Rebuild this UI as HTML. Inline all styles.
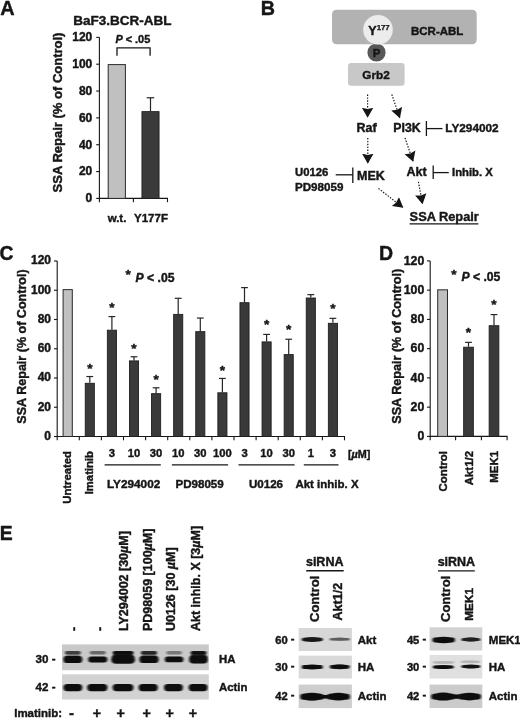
<!DOCTYPE html>
<html lang="en"><head><meta charset="utf-8"><title>Figure</title>
<style>
html,body{margin:0;padding:0;background:#fff;}
svg{display:block;font-family:"Liberation Sans",Arial,Helvetica,sans-serif;fill:#161616;will-change:transform;filter:blur(0.4px);}
svg text{stroke:#161616;stroke-width:0.42;stroke-linejoin:round;}
</style></head>
<body>
<svg width="520" height="719" viewBox="0 0 520 719">
<defs>
<marker id="ah" markerWidth="14" markerHeight="14" refX="9.6" refY="6" orient="auto" markerUnits="userSpaceOnUse"><path d="M0,0.3 L10,6 L0,11.7 L1.2,6 Z" fill="#161616"/></marker>
<filter id="b1" x="-20%" y="-80%" width="140%" height="260%"><feGaussianBlur stdDeviation="0.9 0.75"/></filter>
<filter id="b3" x="-20%" y="-100%" width="140%" height="300%"><feGaussianBlur stdDeviation="1.1 0.9"/></filter>
<filter id="b4" x="-20%" y="-100%" width="140%" height="300%"><feGaussianBlur stdDeviation="0.9 0.6"/></filter>
<filter id="b2" x="-20%" y="-80%" width="140%" height="260%"><feGaussianBlur stdDeviation="1.0 0.7"/></filter>
<clipPath id="c1"><rect x="62.2" y="644" width="146.4" height="27"/></clipPath>
<clipPath id="c2"><rect x="62.2" y="674.3" width="146.4" height="25"/></clipPath>
<clipPath id="c3"><rect x="298.7" y="628" width="53.2" height="80.1"/></clipPath>
<clipPath id="c4"><rect x="429.6" y="627.3" width="52.7" height="80.7"/></clipPath>
</defs>
<rect x="0" y="0" width="520" height="719" fill="#ffffff"/>
<text x="0.2" y="15" font-size="19.9" text-anchor="start" font-weight="bold" font-style="normal" stroke-width="1.0">A</text>
<text x="122.5" y="25" font-size="13.5" text-anchor="middle" font-weight="bold" font-style="normal">BaF3.BCR-ABL</text>
<line x1="99.4" y1="37.359999999999985" x2="99.4" y2="198.9" stroke="#161616" stroke-width="1.1"/>
<line x1="98.9" y1="198.4" x2="168.0" y2="198.4" stroke="#161616" stroke-width="1.1"/>
<line x1="96.2" y1="198.4" x2="99.4" y2="198.4" stroke="#161616" stroke-width="1.1"/>
<text x="92.3" y="202.2" font-size="12" text-anchor="end" font-weight="bold" font-style="normal">0</text>
<line x1="96.2" y1="171.56" x2="99.4" y2="171.56" stroke="#161616" stroke-width="1.1"/>
<text x="92.3" y="175.4" font-size="12" text-anchor="end" font-weight="bold" font-style="normal">20</text>
<line x1="96.2" y1="144.72" x2="99.4" y2="144.72" stroke="#161616" stroke-width="1.1"/>
<text x="92.3" y="148.5" font-size="12" text-anchor="end" font-weight="bold" font-style="normal">40</text>
<line x1="96.2" y1="117.88" x2="99.4" y2="117.88" stroke="#161616" stroke-width="1.1"/>
<text x="92.3" y="121.7" font-size="12" text-anchor="end" font-weight="bold" font-style="normal">60</text>
<line x1="96.2" y1="91.04" x2="99.4" y2="91.04" stroke="#161616" stroke-width="1.1"/>
<text x="92.3" y="94.8" font-size="12" text-anchor="end" font-weight="bold" font-style="normal">80</text>
<line x1="96.2" y1="64.2" x2="99.4" y2="64.2" stroke="#161616" stroke-width="1.1"/>
<text x="92.3" y="68.0" font-size="12" text-anchor="end" font-weight="bold" font-style="normal">100</text>
<line x1="96.2" y1="37.36" x2="99.4" y2="37.36" stroke="#161616" stroke-width="1.1"/>
<text x="92.3" y="41.2" font-size="12" text-anchor="end" font-weight="bold" font-style="normal">120</text>
<line x1="99.4" y1="198.4" x2="99.4" y2="202.20000000000002" stroke="#161616" stroke-width="1.1"/>
<line x1="133.4" y1="198.4" x2="133.4" y2="202.20000000000002" stroke="#161616" stroke-width="1.1"/>
<line x1="167.5" y1="198.4" x2="167.5" y2="202.20000000000002" stroke="#161616" stroke-width="1.1"/>
<rect x="108.20" y="64.60" width="17.20" height="133.80" fill="#c0c0c0" stroke="#2a2a2a" stroke-width="1.0" rx="0"/>
<rect x="141.95" y="111.62" width="17.10" height="86.78" fill="#3a3a3a" stroke="#1e1e1e" stroke-width="0.9" rx="0"/>
<line x1="150.5" y1="111.17" x2="150.5" y2="97.75" stroke="#262626" stroke-width="1.2"/>
<line x1="146.75" y1="97.75" x2="154.25" y2="97.75" stroke="#262626" stroke-width="1.2"/>
<text x="62.1" y="112.5" font-size="13" text-anchor="middle" font-weight="bold" font-style="normal" transform="rotate(-90 62.1 112.5)">SSA Repair (% of Control)</text>
<text x="117" y="221.5" font-size="11.5" text-anchor="middle" font-weight="bold" font-style="normal">w.t.</text>
<text x="151" y="221.5" font-size="11.5" text-anchor="middle" font-weight="bold" font-style="normal">Y177F</text>
<text x="115.4" y="43.1" font-size="10.9" font-weight="bold"><tspan font-style="italic">P</tspan> &lt; .05</text>
<polyline points="117,55.7 117,47.8 150.1,47.8 150.1,55.7" fill="none" stroke="#161616" stroke-width="1.3"/>
<text x="260.8" y="14.9" font-size="19.7" text-anchor="start" font-weight="bold" font-style="normal" stroke-width="1.0">B</text>
<circle cx="376.5" cy="52.5" r="9.1" fill="#585858"/>
<rect x="332.00" y="9.80" width="144.70" height="34.40" fill="#b2b2b2" rx="4.5"/>
<circle cx="378" cy="29.8" r="14.8" fill="#ececec"/>
<text x="368.3" y="35.3" font-size="12.5" font-weight="bold">Y<tspan font-size="7.8" dy="-5.4" stroke-width="0.25">177</tspan></text>
<text x="411" y="34.9" font-size="11.5" text-anchor="start" font-weight="bold" font-style="normal">BCR-ABL</text>
<text x="376.6" y="57.3" font-size="11.5" text-anchor="middle" font-weight="bold" font-style="normal">P</text>
<rect x="348.00" y="63.00" width="56.60" height="22.80" fill="#c8c8c8" rx="3"/>
<text x="376.1" y="79.4" font-size="11.8" text-anchor="middle" font-weight="bold" font-style="normal">Grb2</text>
<line x1="367.6" y1="94.5" x2="367.6" y2="117.4" stroke="#161616" stroke-width="1.2" stroke-dasharray="1.4 1.5" marker-end="url(#ah)"/>
<line x1="391.8" y1="94.5" x2="399.8" y2="117.8" stroke="#161616" stroke-width="1.2" stroke-dasharray="1.4 1.5" marker-end="url(#ah)"/>
<text x="356.5" y="131.6" font-size="12.5" text-anchor="start" font-weight="bold" font-style="normal">Raf</text>
<text x="393.3" y="131.6" font-size="12.3" text-anchor="start" font-weight="bold" font-style="normal">PI3K</text>
<line x1="426.4" y1="121" x2="426.4" y2="136" stroke="#161616" stroke-width="1.3"/>
<line x1="426.4" y1="128.6" x2="442.5" y2="128.6" stroke="#161616" stroke-width="1.3"/>
<text x="445.3" y="132" font-size="11.8" text-anchor="start" font-weight="bold" font-style="normal">LY294002</text>
<line x1="367.8" y1="138" x2="367.8" y2="163.3" stroke="#161616" stroke-width="1.2" stroke-dasharray="1.4 1.5" marker-end="url(#ah)"/>
<line x1="405" y1="137.9" x2="413.1" y2="161.4" stroke="#161616" stroke-width="1.2" stroke-dasharray="1.4 1.5" marker-end="url(#ah)"/>
<text x="357" y="180" font-size="12.5" text-anchor="start" font-weight="bold" font-style="normal">MEK</text>
<text x="406.6" y="175.6" font-size="12.5" text-anchor="start" font-weight="bold" font-style="normal">Akt</text>
<text x="295" y="176.3" font-size="11.3" text-anchor="start" font-weight="bold" font-style="normal">U0126</text>
<text x="295" y="190.8" font-size="11.6" text-anchor="start" font-weight="bold" font-style="normal">PD98059</text>
<line x1="335.7" y1="174.8" x2="352.8" y2="174.8" stroke="#161616" stroke-width="1.3"/>
<line x1="352.8" y1="167.5" x2="352.8" y2="183" stroke="#161616" stroke-width="1.3"/>
<line x1="433.2" y1="165.5" x2="433.2" y2="179" stroke="#161616" stroke-width="1.3"/>
<line x1="433.2" y1="172.6" x2="448.8" y2="172.6" stroke="#161616" stroke-width="1.3"/>
<text x="452" y="176.3" font-size="11.3" text-anchor="start" font-weight="bold" font-style="normal">Inhib. X</text>
<line x1="378.5" y1="188.5" x2="403" y2="207.5" stroke="#161616" stroke-width="1.2" stroke-dasharray="1.4 1.5" marker-end="url(#ah)"/>
<line x1="418.4" y1="181.8" x2="422.5" y2="203.8" stroke="#161616" stroke-width="1.2" stroke-dasharray="1.4 1.5" marker-end="url(#ah)"/>
<text x="409.6" y="221.2" font-size="12.8" text-anchor="start" font-weight="bold" font-style="normal">SSA Repair</text>
<line x1="409.6" y1="223.8" x2="478.4" y2="223.8" stroke="#161616" stroke-width="1.2"/>
<text x="-0.5" y="259.6" font-size="19.3" text-anchor="start" font-weight="bold" font-style="normal" stroke-width="1.0">C</text>
<line x1="57.2" y1="261.0" x2="57.2" y2="437.0" stroke="#161616" stroke-width="1.1"/>
<line x1="56.7" y1="436.5" x2="345.0" y2="436.5" stroke="#161616" stroke-width="1.1"/>
<line x1="54.0" y1="436.5" x2="57.2" y2="436.5" stroke="#161616" stroke-width="1.1"/>
<text x="51" y="439.8" font-size="12" text-anchor="end" font-weight="bold" font-style="normal">0</text>
<line x1="54.0" y1="407.25" x2="57.2" y2="407.25" stroke="#161616" stroke-width="1.1"/>
<text x="51" y="410.6" font-size="12" text-anchor="end" font-weight="bold" font-style="normal">20</text>
<line x1="54.0" y1="378.0" x2="57.2" y2="378.0" stroke="#161616" stroke-width="1.1"/>
<text x="51" y="381.3" font-size="12" text-anchor="end" font-weight="bold" font-style="normal">40</text>
<line x1="54.0" y1="348.75" x2="57.2" y2="348.75" stroke="#161616" stroke-width="1.1"/>
<text x="51" y="352.1" font-size="12" text-anchor="end" font-weight="bold" font-style="normal">60</text>
<line x1="54.0" y1="319.5" x2="57.2" y2="319.5" stroke="#161616" stroke-width="1.1"/>
<text x="51" y="322.8" font-size="12" text-anchor="end" font-weight="bold" font-style="normal">80</text>
<line x1="54.0" y1="290.25" x2="57.2" y2="290.25" stroke="#161616" stroke-width="1.1"/>
<text x="51" y="293.6" font-size="12" text-anchor="end" font-weight="bold" font-style="normal">100</text>
<line x1="54.0" y1="261.0" x2="57.2" y2="261.0" stroke="#161616" stroke-width="1.1"/>
<text x="51" y="264.3" font-size="12" text-anchor="end" font-weight="bold" font-style="normal">120</text>
<line x1="57.2" y1="436.5" x2="57.2" y2="440.3" stroke="#161616" stroke-width="1.1"/>
<line x1="79.3" y1="436.5" x2="79.3" y2="440.3" stroke="#161616" stroke-width="1.1"/>
<line x1="101.4" y1="436.5" x2="101.4" y2="440.3" stroke="#161616" stroke-width="1.1"/>
<line x1="123.5" y1="436.5" x2="123.5" y2="440.3" stroke="#161616" stroke-width="1.1"/>
<line x1="145.6" y1="436.5" x2="145.6" y2="440.3" stroke="#161616" stroke-width="1.1"/>
<line x1="167.7" y1="436.5" x2="167.7" y2="440.3" stroke="#161616" stroke-width="1.1"/>
<line x1="189.8" y1="436.5" x2="189.8" y2="440.3" stroke="#161616" stroke-width="1.1"/>
<line x1="211.9" y1="436.5" x2="211.9" y2="440.3" stroke="#161616" stroke-width="1.1"/>
<line x1="234.0" y1="436.5" x2="234.0" y2="440.3" stroke="#161616" stroke-width="1.1"/>
<line x1="256.1" y1="436.5" x2="256.1" y2="440.3" stroke="#161616" stroke-width="1.1"/>
<line x1="278.2" y1="436.5" x2="278.2" y2="440.3" stroke="#161616" stroke-width="1.1"/>
<line x1="300.3" y1="436.5" x2="300.3" y2="440.3" stroke="#161616" stroke-width="1.1"/>
<line x1="322.4" y1="436.5" x2="322.4" y2="440.3" stroke="#161616" stroke-width="1.1"/>
<line x1="344.5" y1="436.5" x2="344.5" y2="440.3" stroke="#161616" stroke-width="1.1"/>
<rect x="63.10" y="289.63" width="9.20" height="146.87" fill="#c0c0c0" stroke="#2a2a2a" stroke-width="1.0" rx="0"/>
<rect x="85.25" y="383.28" width="9.10" height="53.22" fill="#3a3a3a" stroke="#1e1e1e" stroke-width="0.9" rx="0"/>
<line x1="89.8" y1="382.83" x2="89.8" y2="376.54" stroke="#262626" stroke-width="1.2"/>
<line x1="86.4" y1="376.54" x2="93.2" y2="376.54" stroke="#262626" stroke-width="1.2"/>
<text x="89.8" y="373.3" font-size="13.6" text-anchor="middle" font-weight="bold" font-style="normal">*</text>
<rect x="107.35" y="330.19" width="9.10" height="106.31" fill="#3a3a3a" stroke="#1e1e1e" stroke-width="0.9" rx="0"/>
<line x1="111.9" y1="329.74" x2="111.9" y2="316.57" stroke="#262626" stroke-width="1.2"/>
<line x1="108.5" y1="316.57" x2="115.3" y2="316.57" stroke="#262626" stroke-width="1.2"/>
<text x="111.9" y="311.8" font-size="13.6" text-anchor="middle" font-weight="bold" font-style="normal">*</text>
<rect x="129.45" y="360.90" width="9.10" height="75.60" fill="#3a3a3a" stroke="#1e1e1e" stroke-width="0.9" rx="0"/>
<line x1="134.0" y1="360.45" x2="134.0" y2="356.79" stroke="#262626" stroke-width="1.2"/>
<line x1="130.6" y1="356.79" x2="137.4" y2="356.79" stroke="#262626" stroke-width="1.2"/>
<text x="134.0" y="352.7" font-size="13.6" text-anchor="middle" font-weight="bold" font-style="normal">*</text>
<rect x="151.55" y="393.66" width="9.10" height="42.84" fill="#3a3a3a" stroke="#1e1e1e" stroke-width="0.9" rx="0"/>
<line x1="156.1" y1="393.21" x2="156.1" y2="387.8" stroke="#262626" stroke-width="1.2"/>
<line x1="152.7" y1="387.8" x2="159.5" y2="387.8" stroke="#262626" stroke-width="1.2"/>
<text x="156.1" y="384.2" font-size="13.6" text-anchor="middle" font-weight="bold" font-style="normal">*</text>
<rect x="173.65" y="314.39" width="9.10" height="122.11" fill="#3a3a3a" stroke="#1e1e1e" stroke-width="0.9" rx="0"/>
<line x1="178.2" y1="313.94" x2="178.2" y2="298.29" stroke="#262626" stroke-width="1.2"/>
<line x1="174.8" y1="298.29" x2="181.6" y2="298.29" stroke="#262626" stroke-width="1.2"/>
<rect x="195.75" y="331.65" width="9.10" height="104.85" fill="#3a3a3a" stroke="#1e1e1e" stroke-width="0.9" rx="0"/>
<line x1="200.3" y1="331.2" x2="200.3" y2="318.04" stroke="#262626" stroke-width="1.2"/>
<line x1="196.9" y1="318.04" x2="203.7" y2="318.04" stroke="#262626" stroke-width="1.2"/>
<rect x="217.85" y="392.78" width="9.10" height="43.72" fill="#3a3a3a" stroke="#1e1e1e" stroke-width="0.9" rx="0"/>
<line x1="222.4" y1="392.33" x2="222.4" y2="378.44" stroke="#262626" stroke-width="1.2"/>
<line x1="219.0" y1="378.44" x2="225.8" y2="378.44" stroke="#262626" stroke-width="1.2"/>
<text x="222.4" y="374.7" font-size="13.6" text-anchor="middle" font-weight="bold" font-style="normal">*</text>
<rect x="239.95" y="302.69" width="9.10" height="133.81" fill="#3a3a3a" stroke="#1e1e1e" stroke-width="0.9" rx="0"/>
<line x1="244.5" y1="302.24" x2="244.5" y2="287.62" stroke="#262626" stroke-width="1.2"/>
<line x1="241.1" y1="287.62" x2="247.9" y2="287.62" stroke="#262626" stroke-width="1.2"/>
<rect x="262.05" y="341.89" width="9.10" height="94.61" fill="#3a3a3a" stroke="#1e1e1e" stroke-width="0.9" rx="0"/>
<line x1="266.6" y1="341.44" x2="266.6" y2="334.42" stroke="#262626" stroke-width="1.2"/>
<line x1="263.2" y1="334.42" x2="270.0" y2="334.42" stroke="#262626" stroke-width="1.2"/>
<text x="266.6" y="329.3" font-size="13.6" text-anchor="middle" font-weight="bold" font-style="normal">*</text>
<rect x="284.15" y="354.61" width="9.10" height="81.89" fill="#3a3a3a" stroke="#1e1e1e" stroke-width="0.9" rx="0"/>
<line x1="288.7" y1="354.16" x2="288.7" y2="339.24" stroke="#262626" stroke-width="1.2"/>
<line x1="285.3" y1="339.24" x2="292.1" y2="339.24" stroke="#262626" stroke-width="1.2"/>
<text x="288.7" y="334.4" font-size="13.6" text-anchor="middle" font-weight="bold" font-style="normal">*</text>
<rect x="306.25" y="298.01" width="9.10" height="138.49" fill="#3a3a3a" stroke="#1e1e1e" stroke-width="0.9" rx="0"/>
<line x1="310.8" y1="297.56" x2="310.8" y2="294.64" stroke="#262626" stroke-width="1.2"/>
<line x1="307.4" y1="294.64" x2="314.2" y2="294.64" stroke="#262626" stroke-width="1.2"/>
<rect x="328.35" y="323.31" width="9.10" height="113.19" fill="#3a3a3a" stroke="#1e1e1e" stroke-width="0.9" rx="0"/>
<line x1="332.9" y1="322.86" x2="332.9" y2="318.33" stroke="#262626" stroke-width="1.2"/>
<line x1="329.5" y1="318.33" x2="336.3" y2="318.33" stroke="#262626" stroke-width="1.2"/>
<text x="332.9" y="312.8" font-size="13.6" text-anchor="middle" font-weight="bold" font-style="normal">*</text>
<text x="25.8" y="346.5" font-size="12.55" text-anchor="middle" font-weight="bold" font-style="normal" transform="rotate(-90 25.8 346.5)">SSA Repair (% of Control)</text>
<text x="125.5" y="281.7" font-size="12.2" font-weight="bold"><tspan font-size="13.6" dy="-2.3">*</tspan><tspan dy="2.3" font-style="italic" dx="4.8">P</tspan> &lt; .05</text>
<text x="111.9" y="457.2" font-size="11.2" text-anchor="middle" font-weight="bold" font-style="normal">3</text>
<text x="134.0" y="457.2" font-size="11.2" text-anchor="middle" font-weight="bold" font-style="normal">10</text>
<text x="156.1" y="457.2" font-size="11.2" text-anchor="middle" font-weight="bold" font-style="normal">30</text>
<text x="178.2" y="457.2" font-size="11.2" text-anchor="middle" font-weight="bold" font-style="normal">10</text>
<text x="200.3" y="457.2" font-size="11.2" text-anchor="middle" font-weight="bold" font-style="normal">30</text>
<text x="222.4" y="457.2" font-size="11.2" text-anchor="middle" font-weight="bold" font-style="normal">100</text>
<text x="244.5" y="457.2" font-size="11.2" text-anchor="middle" font-weight="bold" font-style="normal">3</text>
<text x="266.6" y="457.2" font-size="11.2" text-anchor="middle" font-weight="bold" font-style="normal">10</text>
<text x="288.7" y="457.2" font-size="11.2" text-anchor="middle" font-weight="bold" font-style="normal">30</text>
<text x="310.8" y="457.2" font-size="11.2" text-anchor="middle" font-weight="bold" font-style="normal">1</text>
<text x="332.9" y="457.2" font-size="11.2" text-anchor="middle" font-weight="bold" font-style="normal">3</text>
<text x="348" y="457.6" font-size="10.8" font-weight="bold">[<tspan font-style="italic">&#181;</tspan>M]</text>
<text x="71.4" y="451" font-size="11.3" text-anchor="end" font-weight="bold" font-style="normal" transform="rotate(-90 71.4 451)">Untreated</text>
<text x="93.3" y="451" font-size="11.3" text-anchor="end" font-weight="bold" font-style="normal" transform="rotate(-90 93.3 451)">Imatinib</text>
<line x1="104.6" y1="464.9" x2="160.8" y2="464.9" stroke="#161616" stroke-width="1.3"/>
<text x="133.6" y="488.4" font-size="11.8" text-anchor="middle" font-weight="bold" font-style="normal">LY294002</text>
<line x1="171.9" y1="464.9" x2="228.1" y2="464.9" stroke="#161616" stroke-width="1.3"/>
<text x="199.6" y="488.4" font-size="11.6" text-anchor="middle" font-weight="bold" font-style="normal">PD98059</text>
<line x1="238.5" y1="464.9" x2="294.6" y2="464.9" stroke="#161616" stroke-width="1.3"/>
<text x="266" y="488.4" font-size="11.6" text-anchor="middle" font-weight="bold" font-style="normal">U0126</text>
<line x1="303.8" y1="464.9" x2="338.5" y2="464.9" stroke="#161616" stroke-width="1.3"/>
<text x="327" y="488.4" font-size="11.5" text-anchor="middle" font-weight="bold" font-style="normal">Akt inhib. X</text>
<text x="379.1" y="260.2" font-size="19.5" text-anchor="start" font-weight="bold" font-style="normal" stroke-width="1.0">D</text>
<line x1="430.2" y1="260.9" x2="430.2" y2="436.9" stroke="#161616" stroke-width="1.1"/>
<line x1="429.7" y1="436.4" x2="507.6" y2="436.4" stroke="#161616" stroke-width="1.1"/>
<line x1="427.0" y1="436.4" x2="430.2" y2="436.4" stroke="#161616" stroke-width="1.1"/>
<text x="424.3" y="440.0" font-size="12.3" text-anchor="end" font-weight="bold" font-style="normal">0</text>
<line x1="427.0" y1="407.15" x2="430.2" y2="407.15" stroke="#161616" stroke-width="1.1"/>
<text x="424.3" y="410.8" font-size="12.3" text-anchor="end" font-weight="bold" font-style="normal">20</text>
<line x1="427.0" y1="377.9" x2="430.2" y2="377.9" stroke="#161616" stroke-width="1.1"/>
<text x="424.3" y="381.5" font-size="12.3" text-anchor="end" font-weight="bold" font-style="normal">40</text>
<line x1="427.0" y1="348.65" x2="430.2" y2="348.65" stroke="#161616" stroke-width="1.1"/>
<text x="424.3" y="352.2" font-size="12.3" text-anchor="end" font-weight="bold" font-style="normal">60</text>
<line x1="427.0" y1="319.4" x2="430.2" y2="319.4" stroke="#161616" stroke-width="1.1"/>
<text x="424.3" y="323.0" font-size="12.3" text-anchor="end" font-weight="bold" font-style="normal">80</text>
<line x1="427.0" y1="290.15" x2="430.2" y2="290.15" stroke="#161616" stroke-width="1.1"/>
<text x="424.3" y="293.8" font-size="12.3" text-anchor="end" font-weight="bold" font-style="normal">100</text>
<line x1="427.0" y1="260.9" x2="430.2" y2="260.9" stroke="#161616" stroke-width="1.1"/>
<text x="424.3" y="264.5" font-size="12.3" text-anchor="end" font-weight="bold" font-style="normal">120</text>
<line x1="430.2" y1="436.4" x2="430.2" y2="440.2" stroke="#161616" stroke-width="1.1"/>
<line x1="455.6" y1="436.4" x2="455.6" y2="440.2" stroke="#161616" stroke-width="1.1"/>
<line x1="481.4" y1="436.4" x2="481.4" y2="440.2" stroke="#161616" stroke-width="1.1"/>
<line x1="507.1" y1="436.4" x2="507.1" y2="440.2" stroke="#161616" stroke-width="1.1"/>
<rect x="437.70" y="289.82" width="9.80" height="146.58" fill="#c0c0c0" stroke="#2a2a2a" stroke-width="1.0" rx="0"/>
<rect x="463.65" y="347.20" width="9.70" height="89.20" fill="#3a3a3a" stroke="#1e1e1e" stroke-width="0.9" rx="0"/>
<line x1="468.5" y1="346.75" x2="468.5" y2="342.36" stroke="#262626" stroke-width="1.2"/>
<line x1="465.1" y1="342.36" x2="471.9" y2="342.36" stroke="#262626" stroke-width="1.2"/>
<text x="468.5" y="336.5" font-size="13.6" text-anchor="middle" font-weight="bold" font-style="normal">*</text>
<rect x="489.15" y="325.70" width="9.70" height="110.70" fill="#3a3a3a" stroke="#1e1e1e" stroke-width="0.9" rx="0"/>
<line x1="494" y1="325.25" x2="494" y2="314.57" stroke="#262626" stroke-width="1.2"/>
<line x1="490.6" y1="314.57" x2="497.4" y2="314.57" stroke="#262626" stroke-width="1.2"/>
<text x="494" y="308.6" font-size="13.6" text-anchor="middle" font-weight="bold" font-style="normal">*</text>
<text x="400.8" y="346.3" font-size="12.6" text-anchor="middle" font-weight="bold" font-style="normal" transform="rotate(-90 400.8 346.3)">SSA Repair (% of Control)</text>
<text x="451.3" y="281" font-size="12.2" font-weight="bold"><tspan font-size="13.6" dy="-2.3">*</tspan><tspan dy="2.3" font-style="italic" dx="4.8">P</tspan> &lt; .05</text>
<text x="447.1" y="451" font-size="11.4" text-anchor="end" font-weight="bold" font-style="normal" transform="rotate(-90 447.1 451)">Control</text>
<text x="472.8" y="451" font-size="11.4" text-anchor="end" font-weight="bold" font-style="normal" transform="rotate(-90 472.8 451)">Akt1/2</text>
<text x="498.4" y="451" font-size="11.4" text-anchor="end" font-weight="bold" font-style="normal" transform="rotate(-90 498.4 451)">MEK1</text>
<text x="-0.2" y="540" font-size="19.4" text-anchor="start" font-weight="bold" font-style="normal" stroke-width="1.0">E</text>
<text x="78" y="631" font-size="12.5" text-anchor="start" font-weight="bold" font-style="normal" transform="rotate(-90 78 631)">-</text>
<text x="104" y="631" font-size="12.5" text-anchor="start" font-weight="bold" font-style="normal" transform="rotate(-90 104 631)">-</text>
<text x="128.3" y="631" font-size="12.5" text-anchor="start" font-weight="bold" font-style="normal" transform="rotate(-90 128.3 631)">LY294002 [30<tspan font-style="italic">&#181;</tspan>M]</text>
<text x="152" y="631" font-size="12.5" text-anchor="start" font-weight="bold" font-style="normal" transform="rotate(-90 152 631)">PD98059 [100<tspan font-style="italic">&#181;</tspan>M]</text>
<text x="174.9" y="631" font-size="12.5" text-anchor="start" font-weight="bold" font-style="normal" transform="rotate(-90 174.9 631)">U0126 [30 <tspan font-style="italic">&#181;</tspan>M]</text>
<text x="199.7" y="631" font-size="12.5" text-anchor="start" font-weight="bold" font-style="normal" transform="rotate(-90 199.7 631)">Akt inhib. X [3<tspan font-style="italic">&#181;</tspan>M]</text>
<rect x="62.00" y="644.40" width="146.80" height="25.80" fill="#c9c9c9" rx="0"/>
<rect x="62.00" y="674.30" width="146.80" height="25.20" fill="#d2d2d2" rx="0"/>
<g clip-path="url(#c1)">
<rect x="65.4" y="653.35" width="14.9" height="4.5" rx="2.25" fill="#0c0c0c" opacity="0.15" filter="url(#b1)"/>
<rect x="64.9" y="651.00" width="15.9" height="3.6" rx="1.80" fill="#0c0c0c" opacity="0.72" filter="url(#b1)"/>
<rect x="63.4" y="655.70" width="18.9" height="7.4" rx="3.70" fill="#0c0c0c" opacity="1" filter="url(#b1)"/>
<rect x="89.7" y="651.00" width="16.1" height="3.6" rx="1.80" fill="#0c0c0c" opacity="0.5" filter="url(#b1)"/>
<rect x="88.2" y="656.40" width="19.1" height="6.0" rx="3.00" fill="#0c0c0c" opacity="1" filter="url(#b1)"/>
<rect x="113.2" y="653.35" width="19.8" height="4.5" rx="2.25" fill="#0c0c0c" opacity="0.85" filter="url(#b1)"/>
<rect x="112.7" y="651.00" width="20.8" height="3.6" rx="1.80" fill="#0c0c0c" opacity="1" filter="url(#b1)"/>
<rect x="111.2" y="655.00" width="23.8" height="8.8" rx="4.40" fill="#0c0c0c" opacity="1" filter="url(#b1)"/>
<rect x="141.4" y="653.35" width="15.2" height="4.5" rx="2.25" fill="#0c0c0c" opacity="0.35" filter="url(#b1)"/>
<rect x="140.9" y="651.00" width="16.2" height="3.6" rx="1.80" fill="#0c0c0c" opacity="0.85" filter="url(#b1)"/>
<rect x="139.4" y="655.80" width="19.2" height="7.2" rx="3.60" fill="#0c0c0c" opacity="1" filter="url(#b1)"/>
<rect x="166.3" y="651.00" width="15.6" height="3.6" rx="1.80" fill="#0c0c0c" opacity="0.42" filter="url(#b1)"/>
<rect x="164.8" y="656.45" width="18.6" height="5.9" rx="2.95" fill="#0c0c0c" opacity="1" filter="url(#b1)"/>
<rect x="191.1" y="653.35" width="14.8" height="4.5" rx="2.25" fill="#0c0c0c" opacity="0.75" filter="url(#b1)"/>
<rect x="190.6" y="651.00" width="15.8" height="3.6" rx="1.80" fill="#0c0c0c" opacity="0.97" filter="url(#b1)"/>
<rect x="189.1" y="655.30" width="18.8" height="8.2" rx="4.10" fill="#0c0c0c" opacity="1" filter="url(#b1)"/>
</g><g clip-path="url(#c2)">
<rect x="63.4" y="684.00" width="18.9" height="7.2" rx="3.60" fill="#0c0c0c" opacity="1" filter="url(#b1)"/>
<rect x="87.2" y="684.00" width="20.2" height="7.2" rx="3.60" fill="#0c0c0c" opacity="1" filter="url(#b1)"/>
<rect x="112.6" y="684.00" width="20.8" height="7.2" rx="3.60" fill="#0c0c0c" opacity="1" filter="url(#b1)"/>
<rect x="138.6" y="684.00" width="19.2" height="7.2" rx="3.60" fill="#0c0c0c" opacity="1" filter="url(#b1)"/>
<rect x="164.0" y="684.00" width="18.9" height="7.2" rx="3.60" fill="#0c0c0c" opacity="1" filter="url(#b1)"/>
<rect x="188.6" y="684.00" width="19.0" height="7.2" rx="3.60" fill="#0c0c0c" opacity="1" filter="url(#b1)"/>
</g>
<text x="55.6" y="663.4" font-size="11.6" text-anchor="end" font-weight="bold" font-style="normal">30 <tspan dy="-1.1">-</tspan></text>
<text x="55.6" y="691" font-size="11.6" text-anchor="end" font-weight="bold" font-style="normal">42 <tspan dy="-1.1">-</tspan></text>
<text x="219" y="663.4" font-size="11.4" text-anchor="start" font-weight="bold" font-style="normal">HA</text>
<text x="219" y="691" font-size="11.4" text-anchor="start" font-weight="bold" font-style="normal">Actin</text>
<text x="14.2" y="717" font-size="11.5" text-anchor="start" font-weight="bold" font-style="normal">Imatinib:</text>
<text x="71.5" y="717.5" font-size="15" text-anchor="middle" font-weight="bold" font-style="normal">-</text>
<text x="96.9" y="718" font-size="14.3" text-anchor="middle" font-weight="bold" font-style="normal">+</text>
<text x="120.6" y="718" font-size="14.3" text-anchor="middle" font-weight="bold" font-style="normal">+</text>
<text x="146.8" y="718" font-size="14.3" text-anchor="middle" font-weight="bold" font-style="normal">+</text>
<text x="169.8" y="718" font-size="14.3" text-anchor="middle" font-weight="bold" font-style="normal">+</text>
<text x="192.9" y="718" font-size="14.3" text-anchor="middle" font-weight="bold" font-style="normal">+</text>
<text x="324.7" y="565.8" font-size="12.5" text-anchor="middle" font-weight="bold" font-style="normal">siRNA</text>
<line x1="306.2" y1="570.8" x2="343.7" y2="570.8" stroke="#161616" stroke-width="1.4"/>
<text x="319.3" y="622" font-size="13" text-anchor="start" font-weight="bold" font-style="normal" transform="rotate(-90 319.3 622)">Control</text>
<text x="342.3" y="620.6" font-size="12.6" text-anchor="start" font-weight="bold" font-style="normal" transform="rotate(-90 342.3 620.6)">Akt1/2</text>
<rect x="298.70" y="628.00" width="53.20" height="23.00" fill="#d7d7d7" rx="0"/>
<rect x="298.70" y="655.60" width="53.20" height="22.90" fill="#d9d9d9" rx="0"/>
<rect x="298.70" y="684.60" width="53.20" height="23.50" fill="#cecece" rx="0"/>
<g clip-path="url(#c3)">
<g opacity="0.95" filter="url(#b4)" fill="#0c0c0c"><ellipse cx="312.3" cy="639.5" rx="9.5" ry="2.38"/><rect x="301.8" y="637.74" width="21.0" height="3.52" rx="1.76"/></g>
<g opacity="0.6" filter="url(#b4)" fill="#0c0c0c"><ellipse cx="339.7" cy="639.2" rx="8.9" ry="1.62"/><rect x="329.8" y="638.00" width="19.8" height="2.40" rx="1.20"/></g>
<g opacity="1" filter="url(#b4)" fill="#0c0c0c"><ellipse cx="312.3" cy="667" rx="9.5" ry="2.59"/><rect x="301.8" y="665.08" width="21.0" height="3.84" rx="1.92"/></g>
<g opacity="1" filter="url(#b4)" fill="#0c0c0c"><ellipse cx="339.7" cy="666.8" rx="8.9" ry="2.48"/><rect x="329.8" y="664.96" width="19.8" height="3.68" rx="1.84"/></g>
<g opacity="1" filter="url(#b4)" fill="#0c0c0c"><ellipse cx="312.0" cy="696.7" rx="10.6" ry="4.00"/><rect x="300.2" y="693.74" width="23.6" height="5.92" rx="2.96"/></g>
<g opacity="1" filter="url(#b4)" fill="#0c0c0c"><ellipse cx="338.4" cy="696.7" rx="10.3" ry="3.89"/><rect x="327.0" y="693.82" width="22.9" height="5.76" rx="2.88"/></g>
<rect x="320.0" y="695.00" width="10.0" height="3.6" rx="1.80" fill="#0c0c0c" opacity="1" filter="url(#b2)"/>
</g>
<text x="294.6" y="643.7" font-size="11.2" text-anchor="end" font-weight="bold" font-style="normal">60 <tspan dy="-1.3">-</tspan></text>
<text x="294.6" y="670.7" font-size="11.2" text-anchor="end" font-weight="bold" font-style="normal">30 <tspan dy="-1.3">-</tspan></text>
<text x="294.6" y="699.5" font-size="11.2" text-anchor="end" font-weight="bold" font-style="normal">42 <tspan dy="-1.3">-</tspan></text>
<text x="357.7" y="643.7" font-size="11.5" text-anchor="start" font-weight="bold" font-style="normal">Akt</text>
<text x="357.7" y="670.7" font-size="11.5" text-anchor="start" font-weight="bold" font-style="normal">HA</text>
<text x="357.7" y="699.5" font-size="11.5" text-anchor="start" font-weight="bold" font-style="normal">Actin</text>
<text x="456.4" y="566" font-size="12.5" text-anchor="middle" font-weight="bold" font-style="normal">siRNA</text>
<line x1="438" y1="570.9" x2="474.8" y2="570.9" stroke="#161616" stroke-width="1.4"/>
<text x="449.5" y="622" font-size="13" text-anchor="start" font-weight="bold" font-style="normal" transform="rotate(-90 449.5 622)">Control</text>
<text x="473.1" y="620.7" font-size="11.8" text-anchor="start" font-weight="bold" font-style="normal" transform="rotate(-90 473.1 620.7)">MEK1</text>
<rect x="429.60" y="627.30" width="52.70" height="23.20" fill="#d2d2d2" rx="0"/>
<rect x="429.60" y="655.00" width="52.70" height="23.50" fill="#e0e0e0" rx="0"/>
<rect x="429.60" y="684.60" width="52.70" height="23.40" fill="#cbcbcb" rx="0"/>
<g clip-path="url(#c4)">
<g opacity="1" filter="url(#b4)" fill="#0c0c0c"><ellipse cx="443.7" cy="640" rx="10.2" ry="3.35"/><rect x="432.4" y="637.52" width="22.6" height="4.96" rx="2.48"/></g>
<g opacity="0.9" filter="url(#b4)" fill="#0c0c0c"><ellipse cx="470.9" cy="639.5" rx="8.4" ry="2.16"/><rect x="461.5" y="637.90" width="18.7" height="3.20" rx="1.60"/></g>
<g opacity="0.2" filter="url(#b4)" fill="#0c0c0c"><ellipse cx="443.5" cy="662.4" rx="9.5" ry="1.40"/><rect x="433.0" y="661.36" width="21.0" height="2.08" rx="1.04"/></g>
<g opacity="0.2" filter="url(#b4)" fill="#0c0c0c"><ellipse cx="470.5" cy="661.8" rx="8.6" ry="1.40"/><rect x="461.0" y="660.76" width="19.0" height="2.08" rx="1.04"/></g>
<g opacity="1" filter="url(#b4)" fill="#0c0c0c"><ellipse cx="443.3" cy="667" rx="9.5" ry="2.05"/><rect x="432.8" y="665.48" width="21.0" height="3.04" rx="1.52"/></g>
<g opacity="0.97" filter="url(#b4)" fill="#0c0c0c"><ellipse cx="470.9" cy="666.5" rx="8.4" ry="2.11"/><rect x="461.5" y="664.94" width="18.7" height="3.12" rx="1.56"/></g>
<g opacity="1" filter="url(#b4)" fill="#0c0c0c"><ellipse cx="443.3" cy="696.6" rx="10.9" ry="4.00"/><rect x="431.2" y="693.64" width="24.2" height="5.92" rx="2.96"/></g>
<g opacity="1" filter="url(#b4)" fill="#0c0c0c"><ellipse cx="469.5" cy="696.6" rx="10.3" ry="3.89"/><rect x="458.0" y="693.72" width="23.0" height="5.76" rx="2.88"/></g>
<rect x="452.0" y="694.60" width="9.0" height="4.2" rx="2.10" fill="#0c0c0c" opacity="1" filter="url(#b2)"/>
</g>
<text x="426.2" y="643.6" font-size="11.2" text-anchor="end" font-weight="bold" font-style="normal">45 <tspan dy="-1.3">-</tspan></text>
<text x="426.2" y="670.7" font-size="11.2" text-anchor="end" font-weight="bold" font-style="normal">30 <tspan dy="-1.3">-</tspan></text>
<text x="426.2" y="699.7" font-size="11.2" text-anchor="end" font-weight="bold" font-style="normal">42 <tspan dy="-1.3">-</tspan></text>
<text x="488.8" y="643.6" font-size="11.5" text-anchor="start" font-weight="bold" font-style="normal">MEK1</text>
<text x="488.8" y="670.7" font-size="11.5" text-anchor="start" font-weight="bold" font-style="normal">HA</text>
<text x="488.8" y="699.7" font-size="11.5" text-anchor="start" font-weight="bold" font-style="normal">Actin</text>
</svg>
</body></html>
